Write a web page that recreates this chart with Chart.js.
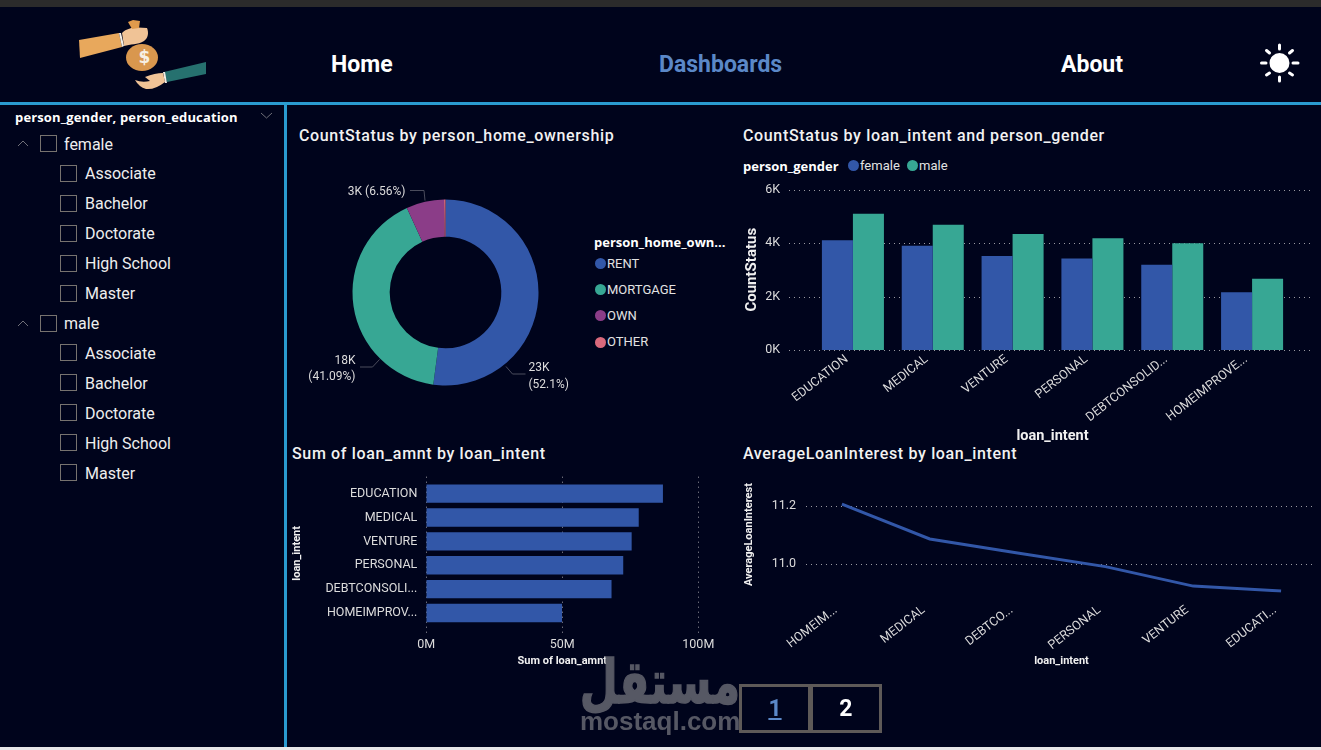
<!DOCTYPE html>
<html>
<head>
<meta charset="utf-8">
<title>Loan dashboard</title>
<script src="https://cdn.jsdelivr.net/npm/chart.js@4"></script>
<style>
    html, body { margin: 0; padding: 0; background: #00041c; }
    body { position: relative; width: 1321px; height: 750px; overflow: hidden; color: #fff; font-family: Roboto, sans-serif; }
    .abs { position: absolute; white-space: nowrap; }
    canvas { position: absolute; }
    .nav { font: 700 23px Roboto, sans-serif; top: 51px; }
    .title { font: 500 16px Roboto, sans-serif; color: #f2f2f2; letter-spacing: 0.65px; }
    .legend-title { font: 700 13px "Open Sans", sans-serif; color: #fff; }
    .legend-text { font: 13px Roboto, sans-serif; color: #e2e2e2; }
    .dot { position: absolute; width: 11px; height: 11px; border-radius: 50%; }
    .tree-text { font: 16px Roboto, sans-serif; color: #eee; }
    .box { position: absolute; width: 15px; height: 15px; border: 1px solid #77736f; }
    .page { position: absolute; top: 684px; height: 43px; border: 3px solid #5e5a58; text-align: center; font: 700 23px/43px Roboto, sans-serif; }
</style>
</head>
<body>
<div class="abs" style="left:0;top:0;width:1321px;height:7px;background:#2b2b2b"></div>
<div class="abs" style="left:0;top:102px;width:1321px;height:3px;background:#2a9bd0"></div>
<div class="abs" style="left:284px;top:105px;width:3px;height:645px;background:#2a9bd0"></div>
<div class="abs" style="left:0;top:747px;width:1321px;height:3px;background:#e8e8e8"></div>

<svg class="abs" style="left:60px;top:5px" width="160" height="100" viewBox="0 0 160 100">
    <polygon points="19,35 59,28 62,42 20,53" fill="#e8a85c"/>
    <polygon points="59,28 61,28 64,41 62,42" fill="#f4f0e8"/>
    <path d="M62 28 C68 22 76 22 87 23 C89 28 88 33 84 36 C78 40 70 39 64 41 Z" fill="#f0c396"/>
    <polygon points="68,17 73,15 80,16 79,23 72,24" fill="#e09a4c"/>
    <ellipse cx="82" cy="52.5" rx="16" ry="13.5" fill="#d9974e"/>
    <text x="84.5" y="58" text-anchor="middle" font-family="DejaVu Sans" font-weight="700" font-size="17" fill="#f6efe4">$</text>
    <polygon points="104,67 146,57 146,69 107,77" fill="#26716f"/>
    <polygon points="103,67 105,67 107,78 105,78" fill="#f0ece4"/>
    <path d="M75 75 Q82 78 90 76 L85 72 Q95 68 103 68 L105 77 Q95 85 86 84 Q79 82 75 75 Z" fill="#f0c396"/>
</svg>

<div class="abs nav" style="left:331px">Home</div>
<div class="abs nav" style="left:659px;color:#5b88c8">Dashboards</div>
<div class="abs nav" style="left:1061px">About</div>

<svg class="abs" style="left:1240px;top:30px" width="81" height="80">
    <circle cx="39.5" cy="33" r="10" fill="#fff"/>
    <g stroke="#fff" stroke-width="3" stroke-linecap="round">
        <line x1="39.5" y1="15" x2="39.5" y2="19"/><line x1="39.5" y1="47" x2="39.5" y2="51"/>
        <line x1="21.5" y1="33" x2="26" y2="33"/><line x1="53" y1="33" x2="58" y2="33"/>
        <line x1="26.5" y1="20.5" x2="29.5" y2="23"/><line x1="49.5" y1="23" x2="52.5" y2="20.5"/>
        <line x1="26.5" y1="45" x2="29.5" y2="43"/><line x1="49.5" y1="43" x2="52.5" y2="45"/>
    </g>
</svg>

<div id="tree"></div>

<div class="abs title" style="left:299px;top:126px">CountStatus by person_home_ownership</div>
<div class="abs title" style="left:743px;top:126px">CountStatus by loan_intent and person_gender</div>
<div class="abs title" style="left:292px;top:444px">Sum of loan_amnt by loan_intent</div>
<div class="abs title" style="left:743px;top:444px">AverageLoanInterest by loan_intent</div>

<canvas id="homeChart" style="left:300px;top:170px"></canvas>
<canvas id="genderChart" style="left:743px;top:180px"></canvas>
<canvas id="amountChart" style="left:291px;top:470px"></canvas>
<canvas id="interestChart" style="left:743px;top:470px"></canvas>

<div id="homeLegend"></div>
<div id="genderLegend"></div>

<div class="abs" dir="rtl" style="left:440px;top:647px;width:300px;text-align:right;font:700 60px 'DejaVu Sans',sans-serif;color:#565864;transform-origin:right center;transform:scaleX(0.73);-webkit-text-stroke:1.5px #565864">مستقل</div>
<div class="abs" style="left:580px;top:706px;font:700 26px 'Liberation Sans',sans-serif;color:#565864">mostaql.com</div>

<div class="page" style="left:739px;width:66px;color:#5b88c8"><u>1</u></div>
<div class="page" style="left:810px;width:65.5px">2</div>

<script>
    const homeTypes = ['RENT', 'MORTGAGE', 'OWN', 'OTHER'];
    const homeCounts = [23445, 18490, 2952, 113];
    const homeLabels = [['23K', '(52.1%)'], ['18K', '(41.09%)'], ['3K (6.56%)'], []];

    const genderIntents = ['EDUCATION', 'MEDICAL', 'VENTURE', 'PERSONAL', 'DEBTCONSOLID...', 'HOMEIMPROVE...'];
    const femaleCounts = [4100, 3900, 3510, 3420, 3190, 2160];
    const maleCounts = [5090, 4680, 4340, 4180, 3990, 2660];
    const genderTicks = [0, 2000, 4000, 6000];

    const amountIntents = ['EDUCATION', 'MEDICAL', 'VENTURE', 'PERSONAL', 'DEBTCONSOLI...', 'HOMEIMPROV...'];
    const loanAmounts = [87000000, 78100000, 75500000, 72400000, 68100000, 49900000];
    const amountTicks = [0, 50000000, 100000000];

    const interestIntents = ['HOMEIM...', 'MEDICAL', 'DEBTCO...', 'PERSONAL', 'VENTURE', 'EDUCATI...'];
    const avgInterest = [11.205, 11.085, 11.037, 10.99, 10.923, 10.906];
    const interestTicks = [11.0, 11.2];

    const genderNames = ['female', 'male'];
    const educationLevels = ['Associate', 'Bachelor', 'Doctorate', 'High School', 'Master'];

    const BLUE = '#3257a8';
    const GREEN = '#37a794';
    const PURPLE = '#8b3d88';
    const PINK = '#d9697c';
    const TICK_COLOR = '#dcdcdc';
    const TITLE_COLOR = '#f0f0f0';
    const TICK_FONT = { family: 'Roboto', size: 12.5 };
    const NO_GRID = { display: false, drawTicks: false };

    // dotted gridlines in Power BI run past the bars, so they are drawn here
    const dottedGrid = {
        id: 'dottedGrid',
        beforeDatasetsDraw(chart, args, opts) {
            const ctx = chart.ctx;
            const scale = chart.scales[opts.axis];
            const area = chart.chartArea;
            ctx.save();
            ctx.strokeStyle = '#9a9aa2';
            ctx.lineWidth = 1;
            ctx.setLineDash([1, 4]);
            scale.ticks.forEach(t => {
                const p = Math.round(scale.getPixelForValue(t.value)) + 0.5;
                ctx.beginPath();
                if (scale.isHorizontal()) {
                    ctx.moveTo(p, area.top - opts.before);
                    ctx.lineTo(p, area.bottom + opts.after);
                } else {
                    ctx.moveTo(area.left - opts.before, p);
                    ctx.lineTo(area.right + opts.after, p);
                }
                ctx.stroke();
            });
            ctx.restore();
        }
    };

    // slice labels with their leader lines, placed relative to the donut centre
    const sliceLabels = {
        id: 'sliceLabels',
        afterDraw(chart, args, opts) {
            const ctx = chart.ctx;
            const arc = chart.getDatasetMeta(0).data[0];
            const cx = arc.x, cy = arc.y;
            ctx.save();
            ctx.font = '12px Roboto';
            ctx.textBaseline = 'middle';
            opts.items.forEach((item, i) => {
                ctx.strokeStyle = '#4a4c5c';
                ctx.beginPath();
                item.leader.forEach((p, k) => {
                    if (k === 0) ctx.moveTo(cx + p[0], cy + p[1]);
                    else ctx.lineTo(cx + p[0], cy + p[1]);
                });
                ctx.stroke();
                ctx.fillStyle = TICK_COLOR;
                ctx.textAlign = item.align;
                homeLabels[i].forEach((line, k) => {
                    ctx.fillText(line, cx + item.x, cy + item.y + k * 16.5);
                });
            });
            ctx.restore();
        }
    };

    const setTicks = values => scale => {
        scale.ticks = values.map(v => ({ value: v }));
    };
    // tick padding leaks into the layout, clear it so the plot area stays put
    const clearPadding = scale => {
        scale.paddingTop = 0;
        scale.paddingBottom = 0;
        scale.paddingLeft = 0;
        scale.paddingRight = 0;
    };
    const fixWidth = w => scale => { scale.width = w; clearPadding(scale); };
    const fixHeight = h => scale => { scale.height = h; clearPadding(scale); };
    const axisTitle = (text, size) => ({
        display: true,
        text: text,
        color: TITLE_COLOR,
        padding: 0,
        font: { family: 'Roboto', size: size, weight: '700' }
    });

    function sizeCanvas(id, w, h) {
        const c = document.getElementById(id);
        c.style.width = w + 'px';
        c.style.height = h + 'px';
        c.width = w;
        c.height = h;
        return c;
    }

    function addText(parent, cls, text, left, top) {
        const el = document.createElement('div');
        el.className = 'abs ' + cls;
        el.textContent = text;
        el.style.left = left + 'px';
        el.style.top = top + 'px';
        parent.appendChild(el);
        return el;
    }

    function addDot(parent, color, left, top) {
        const el = document.createElement('div');
        el.className = 'dot';
        el.style.background = color;
        el.style.left = left + 'px';
        el.style.top = top + 'px';
        parent.appendChild(el);
    }

    function addChevron(parent, x, y, up) {
        const ns = 'http://www.w3.org/2000/svg';
        const svg = document.createElementNS(ns, 'svg');
        svg.setAttribute('class', 'abs');
        svg.setAttribute('width', 14);
        svg.setAttribute('height', 8);
        svg.style.left = x + 'px';
        svg.style.top = y + 'px';
        const line = document.createElementNS(ns, 'polyline');
        line.setAttribute('points', up ? '1,7 6,2 11,7' : '1,1 6.5,6 12,1');
        line.setAttribute('fill', 'none');
        line.setAttribute('stroke', '#6f6f78');
        svg.appendChild(line);
        parent.appendChild(svg);
    }

    function addBox(parent, left, top) {
        const el = document.createElement('div');
        el.className = 'box';
        el.style.left = left + 'px';
        el.style.top = top + 'px';
        parent.appendChild(el);
    }

    // slicer tree
    const tree = document.getElementById('tree');
    addText(tree, 'legend-title', 'person_gender, person_education', 15, 108).style.letterSpacing = '0.15px';
    addChevron(tree, 260, 112, false);
    let rowY = 144;
    genderNames.forEach(name => {
        addChevron(tree, 17, rowY - 5, true);
        addBox(tree, 40, rowY - 9);
        addText(tree, 'tree-text', name, 64, rowY - 9.5);
        rowY += 29.5;
        educationLevels.forEach(level => {
            addBox(tree, 60, rowY - 9);
            addText(tree, 'tree-text', level, 85, rowY - 9.5);
            rowY += 30;
        });
    });

    // legends
    const homeLegend = document.getElementById('homeLegend');
    addText(homeLegend, 'legend-title', 'person_home_own...', 594, 233);
    const homeColors = [BLUE, GREEN, PURPLE, PINK];
    homeTypes.forEach((t, i) => {
        const y = 263.5 + i * 26.2;
        addDot(homeLegend, homeColors[i], 594.5, y - 5.5);
        addText(homeLegend, 'legend-text', t, 607, y - 8);
    });

    const genderLegend = document.getElementById('genderLegend');
    addText(genderLegend, 'legend-title', 'person_gender', 743, 157);
    addDot(genderLegend, BLUE, 847.5, 159.5);
    addText(genderLegend, 'legend-text', genderNames[0], 860, 158);
    addDot(genderLegend, GREEN, 906.5, 159.5);
    addText(genderLegend, 'legend-text', genderNames[1], 919, 158);

    // donut
    new Chart(sizeCanvas('homeChart', 291, 245), {
        type: 'doughnut',
        data: {
            labels: homeTypes,
            datasets: [{ data: homeCounts, backgroundColor: homeColors, borderWidth: 0 }]
        },
        options: {
            responsive: false,
            animation: false,
            cutout: '60%',
            layout: { padding: { left: 52.5, right: 52.5, top: 29.5, bottom: 29.5 } },
            plugins: {
                legend: { display: false },
                tooltip: { enabled: false },
                sliceLabels: {
                    items: [
                        { x: 83, y: 75.5, align: 'left', leader: [[60.5, 74], [67, 81.5], [80, 81.5]] },
                        { x: -90, y: 68, align: 'right', leader: [[-66, 67], [-73, 74.5], [-85.5, 74.5]] },
                        { x: -40, y: -101, align: 'right', leader: [[-20.5, -92], [-21.5, -102], [-35.5, -102]] },
                        { x: 0, y: 0, align: 'left', leader: [] }
                    ]
                }
            }
        },
        plugins: [sliceLabels]
    });

    // clustered columns
    new Chart(sizeCanvas('genderChart', 578, 265), {
        type: 'bar',
        data: {
            labels: genderIntents,
            datasets: [
                { label: genderNames[0], data: femaleCounts, backgroundColor: BLUE },
                { label: genderNames[1], data: maleCounts, backgroundColor: GREEN }
            ]
        },
        options: {
            responsive: false,
            animation: false,
            layout: { padding: { top: 9.5, right: 29 } },
            datasets: { bar: { categoryPercentage: 0.777, barPercentage: 1 } },
            plugins: {
                legend: { display: false },
                tooltip: { enabled: false },
                dottedGrid: { axis: 'y', before: 24, after: 21 }
            },
            scales: {
                x: {
                    afterFit: fixHeight(95),
                    grid: NO_GRID,
                    border: { display: false },
                    title: axisTitle('loan_intent', 14.5),
                    ticks: { color: TICK_COLOR, font: TICK_FONT, minRotation: 38, maxRotation: 38, autoSkip: false, padding: 2, labelOffset: -6 }
                },
                y: {
                    min: 0,
                    max: 6000,
                    afterFit: fixWidth(70),
                    afterBuildTicks: setTicks(genderTicks),
                    grid: NO_GRID,
                    border: { display: false },
                    title: axisTitle('CountStatus', 15),
                    ticks: { color: TICK_COLOR, font: TICK_FONT, padding: 33, callback: v => (v / 1000) + 'K' }
                }
            }
        },
        plugins: [dottedGrid]
    });

    // horizontal bars
    new Chart(sizeCanvas('amountChart', 425, 198), {
        type: 'bar',
        data: {
            labels: amountIntents,
            datasets: [{ data: loanAmounts, backgroundColor: BLUE, categoryPercentage: 0.77, barPercentage: 1 }]
        },
        options: {
            indexAxis: 'y',
            responsive: false,
            animation: false,
            layout: { padding: { top: 11.7, right: 17.7 } },
            plugins: {
                legend: { display: false },
                tooltip: { enabled: false },
                dottedGrid: { axis: 'x', before: 5, after: 8 }
            },
            scales: {
                x: {
                    min: 0,
                    max: 100000000,
                    afterFit: fixHeight(43),
                    afterBuildTicks: setTicks(amountTicks),
                    grid: NO_GRID,
                    border: { display: false },
                    title: axisTitle('Sum of loan_amnt', 11),
                    ticks: { color: TICK_COLOR, font: TICK_FONT, padding: 12, maxRotation: 0, callback: v => (v / 1000000) + 'M' }
                },
                y: {
                    afterFit: fixWidth(135.3),
                    grid: NO_GRID,
                    border: { display: false },
                    title: axisTitle('loan_intent', 11),
                    ticks: { color: TICK_COLOR, font: TICK_FONT, padding: 9, autoSkip: false }
                }
            }
        },
        plugins: [dottedGrid]
    });

    // line
    new Chart(sizeCanvas('interestChart', 582, 198), {
        type: 'line',
        data: {
            labels: interestIntents,
            datasets: [{ data: avgInterest, borderColor: BLUE, borderWidth: 3, pointRadius: 0, tension: 0, fill: false }]
        },
        options: {
            responsive: false,
            animation: false,
            layout: { padding: { top: 6.4 } },
            plugins: {
                legend: { display: false },
                tooltip: { enabled: false },
                dottedGrid: { axis: 'y', before: -8, after: -10 }
            },
            scales: {
                x: {
                    offset: true,
                    afterFit: fixHeight(75.2),
                    grid: NO_GRID,
                    border: { display: false },
                    title: axisTitle('loan_intent', 11),
                    ticks: { color: TICK_COLOR, font: TICK_FONT, minRotation: 38, maxRotation: 38, autoSkip: false, padding: 10, labelOffset: -6 }
                },
                y: {
                    min: 10.9,
                    max: 11.3,
                    afterFit: fixWidth(55),
                    afterBuildTicks: setTicks(interestTicks),
                    grid: NO_GRID,
                    border: { display: false },
                    title: axisTitle('AverageLoanInterest', 11),
                    ticks: { color: TICK_COLOR, font: TICK_FONT, padding: 2, callback: v => v.toFixed(1) }
                }
            }
        },
        plugins: [dottedGrid]
    });
</script>
</body>
</html>
